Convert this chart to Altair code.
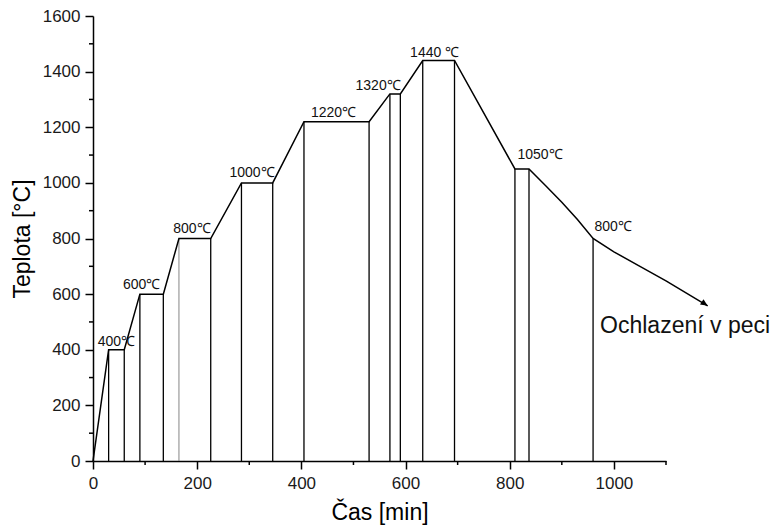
import altair as alt
import pandas as pd

# Furnace schedule: time [min] and temperature [°C] along the heating/cooling curve
time_min = [0, 30, 60, 90, 135, 165, 226, 285, 345, 405, 530, 570, 590,
            633, 694, 810, 837, 870, 900, 930, 960, 1000, 1050, 1100, 1180]
temp_c = [0, 400, 400, 600, 600, 800, 800, 1000, 1000, 1220, 1220, 1320, 1320,
          1440, 1440, 1050, 1050, 988, 930, 868, 800, 752, 700, 648, 558]

# Holding stages: start, end and temperature of each hold
hold_start = [30, 90, 165, 285, 405, 570, 633, 810, 960]
hold_end = [60, 135, 226, 345, 530, 590, 694, 837, 960]
hold_temp = [400, 600, 800, 1000, 1220, 1320, 1440, 1050, 800]
hold_text = ["400℃", "600℃", "800℃", "1000℃", "1220℃", "1320℃", "1440 ℃", "1050℃", "800℃"]

cooling_text = "Ochlazení v peci"

x_major = list(range(0, 1001, 200))
x_minor = list(range(100, 1101, 200))
y_major = list(range(0, 1601, 200))
y_minor = list(range(100, 1501, 200))

# pixel nudges for the hold labels (relative to the middle of each hold)
label_dx = [0, -10, -3, -5, -3, -17, -4, 18, 20]
label_dy = [-4, -5, -6, -6, -5, -4, -4, -10, -8]

FONT = "Liberation Sans"
W, H = 573, 445

profile = pd.DataFrame({"i": range(len(time_min)), "t": time_min, "T": temp_c})

drop_rows = {}
for s, e, T in zip(hold_start, hold_end, hold_temp):
    drop_rows[s] = T
    drop_rows[e] = T
drops = pd.DataFrame({"t": list(drop_rows.keys()), "T": list(drop_rows.values())})

x_scale = alt.Scale(domain=[0, 1100], nice=False, zero=False)
y_scale = alt.Scale(domain=[0, 1600], nice=False)

axis_common = dict(
    domainColor="black", domainWidth=1.5,
    tickColor="black", tickWidth=1.5, tickSize=8,
    labelFont=FONT, labelFontSize=17, labelColor="#1a1a1a",
    titleFont=FONT, titleFontSize=23, titleFontWeight="normal", titleColor="black",
    grid=False, format="d", labelFlush=False, labelOverlap=False,
)

x_axis = alt.Axis(values=x_major, labelPadding=6, titlePadding=10, **axis_common)
y_axis = alt.Axis(values=y_major, labelPadding=5, titlePadding=8, **axis_common)

curve = alt.Chart(profile).mark_line(color="black", strokeWidth=1.5).encode(
    x=alt.X("t:Q", scale=x_scale, axis=x_axis, title="Čas [min]"),
    y=alt.Y("T:Q", scale=y_scale, axis=y_axis, title="Teplota [°C]"),
    order="i:Q",
)

# short minor ticks between the labelled ones
x_minor_ticks = alt.Chart(pd.DataFrame({"t": x_minor})).mark_rule(
    color="black", strokeWidth=1.5
).encode(x="t:Q", y=alt.value(H), y2=alt.value(H + 4))

y_minor_ticks = alt.Chart(pd.DataFrame({"T": y_minor})).mark_rule(
    color="black", strokeWidth=1.5
).encode(y="T:Q", x=alt.value(0), x2=alt.value(-4))

verticals = alt.Chart(drops).mark_rule().encode(
    x="t:Q",
    y="T:Q",
    y2=alt.datum(0),
    color=alt.condition("datum.t == 165", alt.value("#777777"), alt.value("black")),
    strokeWidth=alt.condition("datum.t == 165", alt.value(0.9), alt.value(1.3)),
)

tip = pd.DataFrame({"t": [time_min[-1]], "T": [temp_c[-1]]})
arrow_head = alt.Chart(tip).mark_point(
    shape="M0,0L-1,-0.45L-1,0.45Z", filled=True, color="black",
    opacity=1, size=200, angle=33,
).encode(x="t:Q", y="T:Q")

layers = [verticals, curve, arrow_head, x_minor_ticks, y_minor_ticks]

for k in range(len(hold_text)):
    mid = (hold_start[k] + hold_end[k]) / 2
    row = pd.DataFrame({"t": [mid], "T": [hold_temp[k]], "label": [hold_text[k]]})
    layers.append(
        alt.Chart(row).mark_text(
            font=FONT, fontSize=14, color="#111111", align="center",
            baseline="alphabetic", dx=label_dx[k], dy=label_dy[k],
        ).encode(x="t:Q", y="T:Q", text="label:N")
    )

# cooling note, placed below the start of free cooling at 800 °C
note = pd.DataFrame({"t": [hold_start[-1]], "T": [hold_temp[-1]], "label": [cooling_text]})
layers.append(
    alt.Chart(note).mark_text(
        font=FONT, fontSize=23, color="#111111", align="left",
        baseline="alphabetic", dx=7, dy=94,
    ).encode(x="t:Q", y="T:Q", text="label:N")
)

chart = alt.layer(*layers).properties(
    width=W, height=H,
    autosize=alt.AutoSizeParams(type="none"),
    padding={"left": 93, "top": 16, "right": 110, "bottom": 65},
    background="white",
).configure_view(stroke=None)

chart.save("out.html", embed_options={"renderer": "svg", "actions": False})
